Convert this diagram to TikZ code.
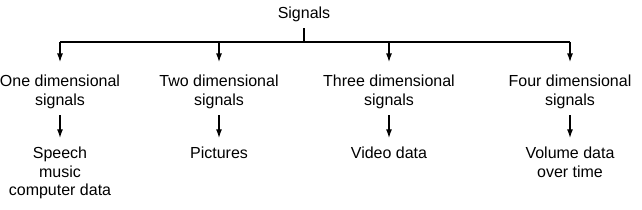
\documentclass[tikz,border=0pt]{standalone}
\usepackage{fontspec}
\setmainfont{Liberation Sans}
\usetikzlibrary{arrows.meta}
\begin{document}
\begin{tikzpicture}[x=0.75pt,y=-0.75pt,
  >={Latex[length=6.5pt,width=4.5pt]},
  line width=0.9pt,
  every node/.style={font=\fontsize{12}{13.8}\selectfont,align=center,inner xsep=1pt},
  kind/.style={inner ysep=4.5pt},
  item/.style={anchor=north,inner ysep=6.5pt},
  arr/.style={->,shorten >=5pt}]

\useasboundingbox (0,0) rectangle (642,210);

\node[kind]
(S)
at (304,14)
{Signals};

\coordinate (J) at (304,42);
\coordinate (L1) at (60,42);
\coordinate (L2) at (219,42);
\coordinate (L3) at (389,42);
\coordinate (L4) at (570,42);

\node[kind]
(A1)
at (60,92)
{One dimensional\\signals};

\node[kind]
(A2)
at (219,92)
{Two dimensional\\signals};

\node[kind]
(A3)
at (389,92)
{Three dimensional\\signals};

\node[kind]
(A4)
at (570,92)
{Four dimensional\\signals};

\node[item]
(B1)
at (60,138)
{Speech\\music\\computer data};

\node[item]
(B2)
at (219,138)
{Pictures};

\node[item]
(B3)
at (389,138)
{Video data};

\node[item]
(B4)
at (570,138)
{Volume data\\over time};

\draw
(S)--(J);

\draw
(L1)--(L4);

\draw[arr]
(L1)--(A1);

\draw[arr]
(L2)--(A2);

\draw[arr]
(L3)--(A3);

\draw[arr]
(L4)--(A4);

\draw[->]
(A1)--(B1);

\draw[->]
(A2)--(B2);

\draw[->]
(A3)--(B3);

\draw[->]
(A4)--(B4);

\end{tikzpicture}
\end{document}
